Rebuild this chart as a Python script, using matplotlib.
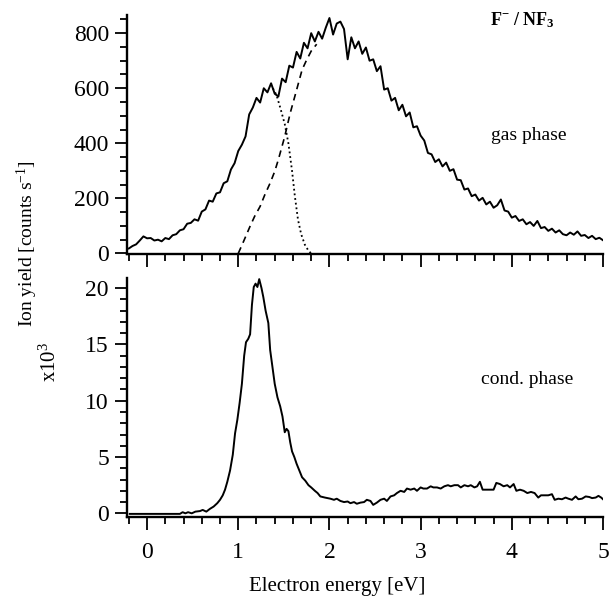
import numpy as np
import matplotlib
matplotlib.use("Agg")
import matplotlib.pyplot as plt
from matplotlib.ticker import MultipleLocator

plt.rcParams['font.family'] = ['Liberation Serif', 'DejaVu Serif']
plt.rcParams['mathtext.fontset'] = 'custom'
plt.rcParams['mathtext.rm'] = 'Liberation Serif'
plt.rcParams['mathtext.it'] = 'Liberation Serif:italic'
plt.rcParams['mathtext.bf'] = 'Liberation Serif:bold'

# ---- gas phase (top panel), energy grid 0.04 eV ----
gas_energy = np.round(np.arange(-0.20, 5.0001, 0.04), 2)
gas_yield = [
    18, 27, 33, 47, 62, 55, 56, 47, 50, 44,
    56, 52, 66, 70, 84, 88, 108, 111, 124, 119,
    152, 160, 192, 188, 218, 222, 255, 262, 305, 328,
    372, 395, 425, 505, 530, 565, 548, 600, 585, 618,
    580, 570, 635, 622, 682, 675, 732, 708, 765, 745,
    800, 770, 805, 780, 820, 855, 795, 835, 842, 815,
    705, 785, 745, 770, 725, 748, 700, 705, 662, 680,
    595, 600, 555, 565, 520, 540, 498, 512, 458, 462,
    428, 410, 365, 360, 332, 342, 316, 330, 300, 306,
    268, 266, 232, 236, 208, 214, 192, 202, 178, 188,
    166, 175, 196, 156, 152, 130, 136, 118, 124, 106,
    114, 100, 118, 92, 96, 82, 90, 76, 84, 70,
    66, 76, 68, 80, 64, 67, 56, 64, 52, 57,
    48,
]

# fitted components
dash_energy = [1.00, 1.06, 1.13, 1.18, 1.24, 1.29, 1.35, 1.40, 1.44, 1.51, 1.57, 1.64, 1.70, 1.75, 1.80, 1.86]
dash_yield = [0, 45, 99, 135, 171, 212, 256, 298, 341, 425, 510, 594, 667, 703, 735, 760]

dot_energy = [1.38, 1.42, 1.46, 1.51, 1.55, 1.59, 1.62, 1.655, 1.69, 1.73, 1.77, 1.80]
dot_yield = [600, 575, 530, 470, 400, 300, 210, 123, 70, 32, 10, 0]

# ---- condensed phase (bottom panel), x10^3 counts/s ----
cond_energy = [
    -0.19, 0.36, 0.39, 0.42, 0.45, 0.49, 0.53, 0.58, 0.61, 0.65,
    0.69, 0.73, 0.77, 0.80, 0.83, 0.855, 0.88, 0.91, 0.94, 0.965,
    0.99, 1.015, 1.04, 1.065, 1.085, 1.11, 1.13, 1.15, 1.17, 1.19,
    1.21, 1.23, 1.255, 1.275, 1.30, 1.33, 1.35, 1.375, 1.40, 1.43,
    1.46, 1.485, 1.51, 1.53, 1.55, 1.57, 1.59, 1.615, 1.64, 1.67,
    1.70, 1.735, 1.77, 1.80, 1.84, 1.87, 1.90, 1.95, 2.01, 2.05,
    2.08, 2.12, 2.16, 2.20, 2.23, 2.27, 2.30, 2.34, 2.38, 2.41,
    2.45, 2.48, 2.52, 2.56, 2.60, 2.63, 2.67, 2.71, 2.74, 2.78,
    2.82, 2.85, 2.89, 2.93, 2.96, 3.00, 3.03, 3.07, 3.11, 3.14,
    3.18, 3.22, 3.26, 3.30, 3.33, 3.37, 3.41, 3.44, 3.48, 3.52,
    3.55, 3.59, 3.62, 3.65, 3.68, 3.72, 3.76, 3.80, 3.83, 3.87,
    3.91, 3.95, 3.98, 4.02, 4.05, 4.09, 4.13, 4.17, 4.21, 4.25,
    4.29, 4.32, 4.36, 4.40, 4.44, 4.47, 4.51, 4.55, 4.59, 4.62,
    4.66, 4.70, 4.73, 4.77, 4.81, 4.85, 4.88, 4.92, 4.95, 4.98,
    5.00,
]
cond_yield = [
    -0.05, -0.05, 0.1, 0.0, 0.1, 0.0, 0.15, 0.2, 0.3, 0.15,
    0.4, 0.6, 0.9, 1.2, 1.6, 2.1, 2.8, 3.8, 5.2, 7.1,
    8.3, 9.8, 11.5, 14.0, 15.2, 15.5, 15.9, 18.5, 20.1, 20.4,
    20.1, 20.8, 20.0, 19.2, 18.0, 16.9, 14.5, 13.0, 11.5, 10.3,
    9.5, 8.6, 7.2, 7.5, 7.3, 6.3, 5.5, 5.0, 4.4, 3.8,
    3.2, 2.9, 2.5, 2.3, 2.0, 1.8, 1.5, 1.4, 1.3, 1.2,
    1.3, 1.1, 1.0, 1.05, 0.9, 1.0, 0.85, 0.95, 1.0, 1.2,
    1.1, 0.75, 0.95, 1.2, 1.3, 1.1, 1.5, 1.6, 1.8, 2.0,
    1.9, 2.2, 2.1, 2.2, 2.0, 2.3, 2.2, 2.2, 2.4, 2.3,
    2.3, 2.2, 2.4, 2.5, 2.4, 2.5, 2.5, 2.3, 2.5, 2.4,
    2.5, 2.3, 2.4, 2.8, 2.1, 2.1, 2.1, 2.1, 2.7, 2.6,
    2.4, 2.5, 2.3, 2.6, 2.0, 2.1, 2.0, 1.8, 1.9, 1.8,
    1.4, 1.6, 1.6, 1.6, 1.7, 1.2, 1.3, 1.25, 1.4, 1.3,
    1.2, 1.5, 1.25, 1.3, 1.5, 1.45, 1.35, 1.4, 1.55, 1.4,
    1.25,
]

W, H = 610, 598
fig = plt.figure(figsize=(W / 100, H / 100), dpi=100)

left, right = 127 / W, 603 / W
ax1 = fig.add_axes([left, 1 - 254 / H, right - left, (254 - 15) / H])
ax2 = fig.add_axes([left, 1 - 516.7 / H, right - left, (516.7 - 278) / H])

for ax in (ax1, ax2):
    for s in ('top', 'right'):
        ax.spines[s].set_visible(False)
    for s in ('left', 'bottom'):
        ax.spines[s].set_linewidth(1.7)
    ax.set_xlim(-0.22, 5.0)
    ax.xaxis.set_major_locator(MultipleLocator(1))
    ax.xaxis.set_minor_locator(MultipleLocator(0.2))
    ax.tick_params(which='major', direction='out', length=9, width=1.3, labelsize=17, pad=4)
    ax.tick_params(which='minor', direction='out', length=5, width=1.3)

ax1.plot(gas_energy, gas_yield, color='black', lw=1.4)
ax1.plot(dash_energy, dash_yield, color='black', lw=1.2, linestyle=(0, (4, 3)))
ax1.plot(dot_energy, dot_yield, color='black', lw=1.3, linestyle=(0, (1, 1.6)))
ax1.set_ylim(-2, 866)
ax1.yaxis.set_major_locator(MultipleLocator(200))
ax1.yaxis.set_minor_locator(MultipleLocator(50))
ax1.tick_params(axis='x', labelbottom=False)

ax2.plot(cond_energy, cond_yield, color='black', lw=1.4)
ax2.set_ylim(-0.3, 20.9)
ax2.yaxis.set_major_locator(MultipleLocator(5))
ax2.yaxis.set_minor_locator(MultipleLocator(1))
ax2.tick_params(axis='x', pad=9)

fig.text(27 / W, 1 - 244 / H, 'Ion yield [counts s$^{\\mathregular{-1}}$]',
         rotation=90, ha='center', va='center', fontsize=14)
fig.text(50 / W, 1 - 362 / H, 'x10$^{\\mathregular{3}}$',
         rotation=90, ha='center', va='center', fontsize=15)
fig.text(337 / W, 1 - 587 / H, 'Electron energy [eV]', ha='center', va='center', fontsize=15)
fig.text(529 / W, 1 - 135 / H, 'gas phase', ha='center', va='center', fontsize=14)
fig.text(527 / W, 1 - 380 / H, 'cond. phase', ha='center', va='center', fontsize=14)
fig.text(522 / W, 1 - 20 / H, r'$\mathbf{F^{\mathbf{-}}\ /\ NF_3}$', ha='center', va='center',
         fontsize=13)

fig.savefig('out.png', dpi=100)
